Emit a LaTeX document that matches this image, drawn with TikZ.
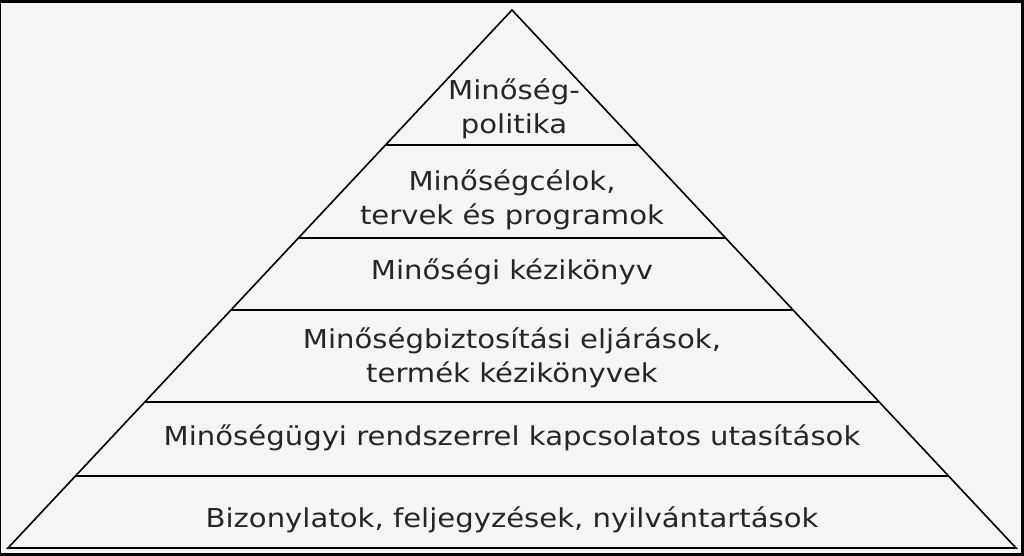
\documentclass[tikz,border=0pt]{standalone}
\usepackage{fontspec}
\setmainfont{DejaVu Sans}[FakeStretch=1.12]
\usetikzlibrary{calc}
\tikzset{
  layer/.style={align=center, text=black!85, font=\fontsize{26}{34}\selectfont, inner sep=0pt},
  edge/.style={black, line width=1.6pt},
  split/.style={black, line width=1.3pt}
}
\begin{document}
\begin{tikzpicture}[x=1pt,y=1pt]
% frame and background
\fill[black] (0,0) rectangle (1024,556);
\fill[gray!8] (1,3) rectangle (1021,553);
\useasboundingbox (0,0) rectangle (1024,556);
%
\coordinate (apex) at (512,546);
\coordinate (bl) at (8,8);
\coordinate (br) at (1016,8);
\draw[edge] (bl) -- (apex) -- (br) -- cycle;
% layer lines
\foreach \t [count=\i] in {0.2509,0.4238,0.5576,0.7286,0.8662}{
  \coordinate (l\i) at ($(apex)!\t!(bl)$);
  \coordinate (r\i) at ($(apex)!\t!(br)$);
  \draw[split] (l\i) -- (r\i);
}
%
\node[layer] (policy) at (514,447) {Minőség-\\politika};
\node[layer] (goals) at (512,356) {Minőségcélok,\\tervek és programok};
\node[layer] (manual) at (512,284) {Minőségi kézikönyv};
\node[layer] (proc) at (512,198) {Minőségbiztosítási eljárások,\\termék kézikönyvek};
\node[layer] (instr) at (512,118) {Minőségügyi rendszerrel kapcsolatos utasítások};
\node[layer] (records) at (512,36) {Bizonylatok, feljegyzések, nyilvántartások};
\end{tikzpicture}
\end{document}
